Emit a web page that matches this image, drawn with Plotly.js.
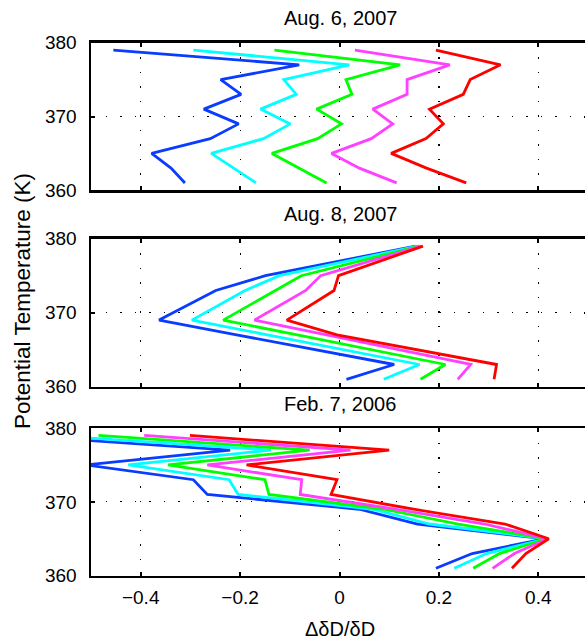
<!DOCTYPE html>
<html>
<head>
<meta charset="utf-8">
<script src="https://cdn.plot.ly/plotly-3.0.1.min.js"></script>
<style>
html,body{margin:0;padding:0;overflow:hidden;background:#fff;}
#chart{width:590px;height:639px;}
</style>
</head>
<body>
<div id="chart"></div>
<script>
// Potential temperature levels (K)
const theta = [379, 377, 375, 373, 371, 369, 367, 365, 363, 361];

const panelTitles = ["Aug. 6, 2007", "Aug. 8, 2007", "Feb. 7, 2006"];
const seriesColors = ["#0a3cff", "#00ffff", "#00ff00", "#ff40ff", "#ff0000"];

// Panel 1: Aug. 6, 2007
const aug6_blue    = [-0.455, -0.081, -0.239, -0.198, -0.273, -0.203, -0.260, -0.378, -0.339, -0.311];
const aug6_cyan    = [-0.294,  0.020, -0.112, -0.087, -0.159, -0.099, -0.153, -0.258, -0.213, -0.168];
const aug6_green   = [-0.131,  0.122,  0.013,  0.025, -0.046,  0.004, -0.044, -0.136, -0.081, -0.026];
const aug6_magenta = [ 0.031,  0.222,  0.136,  0.136,  0.067,  0.107,  0.064, -0.016,  0.040,  0.115];
const aug6_red     = [ 0.194,  0.324,  0.263,  0.249,  0.181,  0.209,  0.174,  0.104,  0.175,  0.255];

// Panel 2: Aug. 8, 2007
const aug8_blue    = [ 0.153,  0.002, -0.149, -0.249, -0.305, -0.363, -0.207, -0.047,  0.110,  0.014];
const aug8_cyan    = [ 0.157,  0.018, -0.121, -0.190, -0.244, -0.297, -0.145,  0.008,  0.161,  0.089];
const aug8_green   = [ 0.161,  0.042, -0.077, -0.129, -0.182, -0.234, -0.085,  0.064,  0.213,  0.163];
const aug8_magenta = [ 0.164,  0.063, -0.038, -0.068, -0.119, -0.171, -0.026,  0.119,  0.264,  0.238];
const aug8_red     = [ 0.168,  0.082, -0.002, -0.011, -0.059, -0.106, -0.005,  0.155,  0.316,  0.311];

// Panel 3: Feb. 7, 2006
const feb7_blue    = [-0.650, -0.220, -0.510, -0.294, -0.266,  0.040,  0.157,  0.413,  0.267,  0.194];
const feb7_cyan    = [-0.580, -0.138, -0.425, -0.222, -0.204,  0.067,  0.181,  0.416,  0.296,  0.231];
const feb7_green   = [-0.485, -0.060, -0.345, -0.150, -0.142,  0.089,  0.239,  0.417,  0.322,  0.269];
const feb7_magenta = [-0.393,  0.022, -0.266, -0.076, -0.079,  0.112,  0.292,  0.419,  0.352,  0.308];
const feb7_red     = [-0.301,  0.100, -0.187, -0.005, -0.017,  0.149,  0.333,  0.421,  0.375,  0.347];

const xTicks = [-0.4, -0.2, 0, 0.2, 0.4];
const yTicks = [360, 370, 380];

const panels = [
  [aug6_blue, aug6_cyan, aug6_green, aug6_magenta, aug6_red],
  [aug8_blue, aug8_cyan, aug8_green, aug8_magenta, aug8_red],
  [feb7_blue, feb7_cyan, feb7_green, feb7_magenta, feb7_red]
];

const W = 590, H = 639;
const FONT = "Liberation Sans, Arial, Helvetica, sans-serif";
const plotLeft = 91, plotRight = 588;
const panelPx = [[42.7, 190.3], [238.7, 386.7], [428, 575.7]];

const traces = [];
panels.forEach((series, p) => {
  series.forEach((vals, s) => {
    traces.push({
      type: "scatter", mode: "lines",
      x: vals, y: theta,
      xaxis: p === 0 ? "x" : "x" + (p + 1),
      yaxis: p === 0 ? "y" : "y" + (p + 1),
      line: {color: seriesColors[s], width: 2.8},
      showlegend: false, hoverinfo: "skip"
    });
  });
});

const layout = {
  width: W, height: H,
  margin: {l: 0, r: 0, t: 0, b: 0},
  paper_bgcolor: "#fff", plot_bgcolor: "#fff",
  font: {family: FONT, size: 19, color: "#000"},
  showlegend: false,
  annotations: []
};

function xa(p) {
  return {
    domain: [plotLeft / W, plotRight / W],
    range: [-0.5, 0.5],
    anchor: p === 0 ? "y" : "y" + (p + 1),
    tickvals: xTicks,
    ticktext: xTicks.map(v => v === 0 ? "0" : (v < 0 ? "\u2212" : "") + Math.abs(v).toFixed(1)),
    showticklabels: p === 2,
    ticks: "inside", ticklen: 4, tickwidth: 2, tickcolor: "#000",
    showline: true, linewidth: 2.5, linecolor: "#000", mirror: "ticks",
    showgrid: true, gridcolor: "#000", gridwidth: 1.2, griddash: "1.5px,13px",
    zeroline: false, automargin: false, fixedrange: true,
    tickfont: {family: FONT, size: 19, color: "#000"},
    ticklabelstandoff: 3
  };
}
function ya(p) {
  const px = panelPx[p];
  return {
    domain: [1 - px[1] / H, 1 - px[0] / H],
    range: [360, 380],
    anchor: p === 0 ? "x" : "x" + (p + 1),
    tickvals: yTicks,
    ticks: "inside", ticklen: 4, tickwidth: 2, tickcolor: "#000",
    showline: true, linewidth: 2.5, linecolor: "#000", mirror: "ticks",
    showgrid: true, gridcolor: "#000", gridwidth: 1.2, griddash: "1.5px,13px",
    zeroline: false, automargin: false, fixedrange: true,
    tickfont: {family: FONT, size: 19, color: "#000"},
    ticklabelstandoff: 8
  };
}
for (let p = 0; p < 3; p++) {
  const sfx = p === 0 ? "" : String(p + 1);
  layout["xaxis" + sfx] = xa(p);
  layout["yaxis" + sfx] = ya(p);
  layout.annotations.push({
    text: panelTitles[p], xref: "paper", yref: "paper",
    x: 340 / W, y: 1 - (panelPx[p][0] - 24.5) / H,
    xanchor: "center", yanchor: "middle", showarrow: false,
    font: {family: FONT, size: 20, color: "#000"}
  });
}
layout.annotations.push({
  text: "Potential Temperature (K)", xref: "paper", yref: "paper",
  x: 22 / W, y: 1 - 301 / H, xanchor: "center", yanchor: "middle",
  textangle: -90, showarrow: false,
  font: {family: FONT, size: 22.5, color: "#000"}
});
layout.annotations.push({
  text: "\u0394\u03b4D/\u03b4D", xref: "paper", yref: "paper",
  x: 340 / W, y: 1 - 629 / H, xanchor: "center", yanchor: "middle",
  showarrow: false,
  font: {family: FONT, size: 20, color: "#000"}
});

Plotly.newPlot("chart", traces, layout, {displayModeBar: false, staticPlot: true});
</script>
</body>
</html>
